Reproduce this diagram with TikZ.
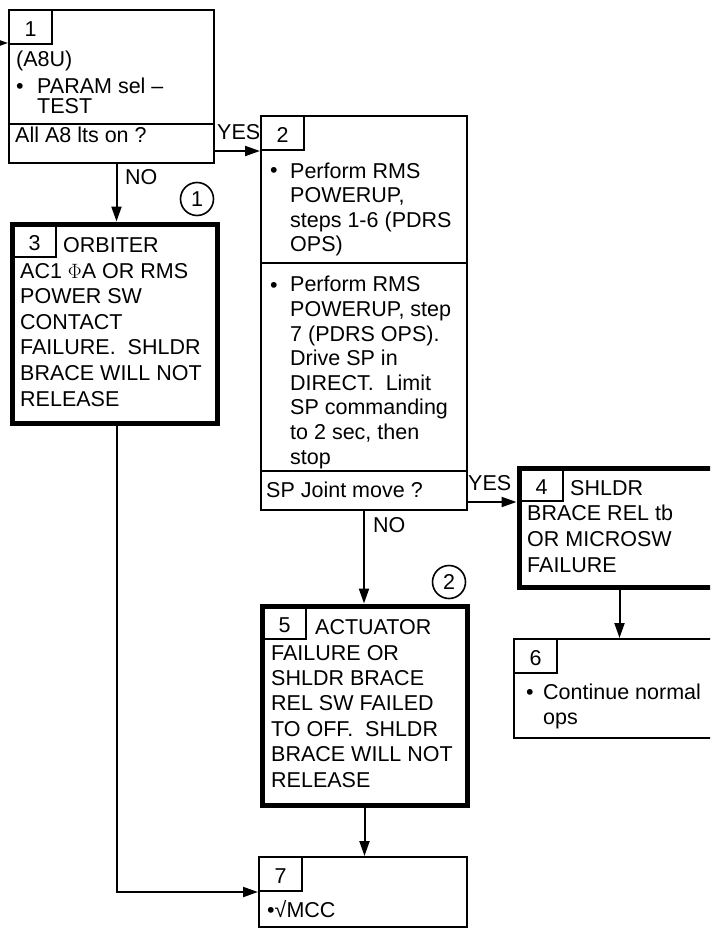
\documentclass[tikz,border=0pt]{standalone}
\usepackage{fontspec}
\setmainfont{Liberation Sans}
\usetikzlibrary{arrows.meta}

\tikzset{
  box/.style={draw,line width=2pt,rectangle,anchor=north west,inner sep=0pt},
  thickbox/.style={box,line width=5pt},
  tab/.style={draw,line width=2pt,anchor=north west,inner sep=0pt,
    minimum width=43pt,minimum height=34pt,text height=19pt,text depth=0pt},
  thicktab/.style={tab,minimum height=32pt},
  % multi-line text: placed by the baseline of its last line
  txt/.style={anchor=base west,align=left,inner sep=0pt},
  lbl/.style={anchor=base west,inner sep=0pt},
  refmark/.style={draw,circle,line width=1.6pt,minimum size=33pt,inner sep=0pt},
  flow/.style={line width=2pt,-{Triangle[length=15pt,width=10pt]}},
}

\begin{document}
\begin{tikzpicture}[x=1pt,y=-1pt,every node/.style={font=\fontsize{21.5}{25.6}\selectfont}]
\useasboundingbox (0,0) rectangle (710,928);
\clip (0,0) rectangle (710,928);

% Blocks, placed by their top left corners.
\node[box,      minimum width=205pt,minimum height=153pt] (b1) at (8,9) {};
\node[box,      minimum width=206pt,minimum height=394pt] (b2) at (260,115) {};
\node[thickbox, minimum width=205pt,minimum height=199pt] (b3) at (9.5,221.5) {};
\node[thickbox, minimum width=201pt,minimum height=119pt] (b4) at (516.5,465.5) {};
\node[thickbox, minimum width=205pt,minimum height=199pt] (b5) at (259.5,603.5) {};
\node[box,      minimum width=208pt,minimum height=99pt]  (b6) at (513,638) {};
\node[box,      minimum width=208pt,minimum height=70pt]  (b7) at (258,856) {};

% Block numbers.
\node[tab]      (t1) at (b1.north west) {1};
\node[tab]      (t2) at (b2.north west) {2};
\node[thicktab] (t3) at ([shift={(2.5,2.5)}]b3.north west) {3};
\node[thicktab] (t4) at ([shift={(2.5,2.5)}]b4.north west) {4};
\node[thicktab] (t5) at ([shift={(2.5,2.5)}]b5.north west) {5};
\node[tab]      (t6) at (b6.north west) {6};
\node[tab]      (t7) at (b7.north west) {7};

% Question rows.
\draw[line width=2pt] (8,124) -- (213,124);
\draw[line width=2pt] (260,263) -- (466,263);
\draw[line width=2pt] (260,471) -- (466,471);

% Flow lines.
\coordinate (in) at (0,43);
\draw[flow] (in) -- (in -| b1.west);
\draw[flow] (t2.south west -| b1.east) -- (t2.south west);
\draw[flow] ([xshift=2pt]b1.south -| b3.north) -- ([xshift=2pt]b3.north);
\draw[flow] ([xshift=2pt]b3.south) |- (t7.south west);
\draw[flow] (t4.south west -| b2.east) -- (t4.south west -| b4.west);
\draw[flow] (b2.south) -- (b2.south |- b5.north);
\draw[flow] (b4.south) -- (b4.south |- b6.north);
\draw[flow] (b5.south) -- (b5.south |- b7.north);

\node[lbl] (y1) at (217,140) {YES};
\node[lbl] (n1) at (125,185) {NO};
\node[lbl] (y2) at (468,490) {YES};
\node[lbl] (n2) at (373,532) {NO};

% Notes.
\node[refmark] (r1) at (197,199) {1};
\node[refmark] (r2) at (449,582) {2};

% Block texts.
\node[lbl] (a8u) at (16,67) {(A8U)};
\node[lbl] (d1)  at (16,94) {\textbullet};
\node[txt] (s1)  at (37,114) {PARAM sel –\\[-5.6pt]TEST};
\node[lbl] (q1)  at (15,143) {All A8 lts on ?};

\node[lbl] (d2a) at (270,178) {\textbullet};
\node[txt,font=\fontsize{21.5}{24.5}\selectfont] (s2a) at (290,251.5)
  {Perform RMS\\POWERUP,\\steps 1-6 (PDRS\\OPS)};
\node[lbl] (d2b) at (270,292) {\textbullet};
\node[txt,font=\fontsize{21.5}{24.6}\selectfont] (s2b) at (290,464)
  {Perform RMS\\POWERUP, step\\7 (PDRS OPS).\\Drive SP in\\DIRECT.\ \ Limit\\SP commanding\\to 2 sec, then\\stop};
\node[lbl] (q2)  at (266,497) {SP Joint move ?};

\node[lbl] (h3) at (63,252) {ORBITER};
\node[txt] (s3) at (20,406)
  {AC1 $\Phi$A OR RMS\\POWER SW\\CONTACT\\FAILURE.\ \ SHLDR\\BRACE WILL NOT\\RELEASE};

\node[lbl] (h4) at (570,495) {SHLDR};
\node[txt] (s4) at (527,572) {BRACE REL tb\\OR MICROSW\\FAILURE};

\node[lbl] (h5) at (315,634) {ACTUATOR};
\node[txt,font=\fontsize{21.5}{25.4}\selectfont] (s5) at (271,787)
  {FAILURE OR\\SHLDR BRACE\\REL SW FAILED\\TO OFF.\ \ SHLDR\\BRACE WILL NOT\\RELEASE};

\node[lbl] (d6) at (526,699) {\textbullet};
\node[txt] (s6) at (543,724.6) {Continue normal\\ops};

\node[lbl] (s7) at (267,917) {•√MCC};
\end{tikzpicture}
\end{document}
